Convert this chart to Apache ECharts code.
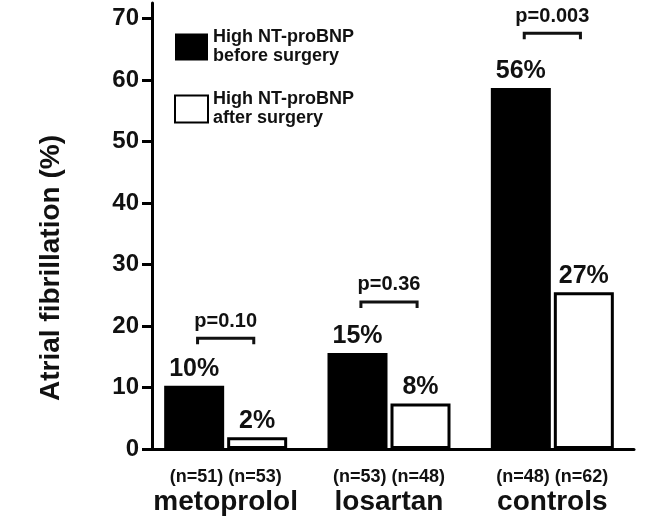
<!DOCTYPE html>
<html>
<head>
<meta charset="utf-8">
<script src="https://cdn.jsdelivr.net/npm/echarts@6/dist/echarts.min.js"></script>
<style>
html,body{margin:0;padding:0;background:#fff;}
#chart{width:651px;height:524px;}
</style>
</head>
<body>
<div id="chart"></div>
<script>
// ---- data ----
var categories = ['metoprolol', 'losartan', 'controls'];
var sampleSizes = ['(n=51) (n=53)', '(n=53) (n=48)', '(n=48) (n=62)'];
var seriesNames = ['High NT-proBNP\nbefore surgery', 'High NT-proBNP\nafter surgery'];
var beforeValues = [10.3, 15.6, 58.7];
var afterValues = [1.9, 7.4, 25.5];
var beforeLabels = ['10%', '15%', '56%'];
var afterLabels = ['2%', '8%', '27%'];
var pLabels = ['p=0.10', 'p=0.36', 'p=0.003'];
var bracketLevels = [18.0, 23.9, 67.6];
var yTicks = [0, 10, 20, 30, 40, 50, 60, 70];
var yAxisTitle = 'Atrial fibrillation (%)';

var FONT = '"Liberation Sans", Arial, sans-serif';
var chart = echarts.init(document.getElementById('chart'));

var bracketData = categories.map(function (c, i) { return [i, bracketLevels[i]]; });

var option = {
  backgroundColor: '#fff',
  animation: false,
  grid: { left: 144, right: 17, top: 3, bottom: 75, containLabel: false },
  legend: {
    data: seriesNames,
    orient: 'vertical',
    left: 169,
    top: 23,
    itemWidth: 33,
    itemHeight: 27,
    itemGap: 24,
    icon: 'rect',
    selectedMode: false,
    textStyle: { fontFamily: FONT, fontWeight: 'bold', fontSize: 18, lineHeight: 19, color: '#111' }
  },
  xAxis: {
    type: 'category',
    data: categories,
    axisLine: { lineStyle: { color: '#000', width: 3 } },
    axisTick: { show: false },
    axisLabel: {
      margin: 19,
      interval: 0,
      formatter: function (v, i) { return '{n|' + sampleSizes[i] + '}\n{c|' + v + '}'; },
      rich: {
        n: { fontFamily: FONT, fontWeight: 'bold', fontSize: 18, lineHeight: 18, color: '#111' },
        c: { fontFamily: FONT, fontWeight: 'bold', fontSize: 28, lineHeight: 32, color: '#111' }
      }
    }
  },
  yAxis: {
    type: 'value',
    min: 0,
    max: 72.5,
    interval: 10,
    offset: -8,
    splitLine: { show: false },
    axisLine: { show: true, lineStyle: { color: '#000', width: 3 } },
    axisTick: { show: true, length: 10, lineStyle: { color: '#000', width: 3 }, customValues: yTicks },
    axisLabel: { margin: 13, customValues: yTicks, fontFamily: FONT, fontWeight: 'bold', fontSize: 24, color: '#111' }
  },
  graphic: [{
    type: 'text',
    x: 51,
    y: 268,
    rotation: Math.PI / 2,
    style: { text: yAxisTitle, font: 'bold 28px ' + FONT, fill: '#111', align: 'center', verticalAlign: 'middle' }
  }],
  series: [
    {
      name: seriesNames[0],
      type: 'bar',
      data: beforeValues,
      barWidth: 60,
      barGap: '5%',
      itemStyle: { color: '#000', borderColor: '#000', borderWidth: 0 },
      label: {
        show: true, position: 'top', distance: 4,
        formatter: function (p) { return beforeLabels[p.dataIndex]; },
        fontFamily: FONT, fontWeight: 'bold', fontSize: 25, color: '#111'
      }
    },
    {
      name: seriesNames[1],
      type: 'bar',
      data: afterValues,
      barWidth: 60,
      barGap: '5%',
      itemStyle: { color: '#fff', borderColor: '#000', borderWidth: 3 },
      label: {
        show: true, position: 'top', distance: 4,
        formatter: function (p) { return afterLabels[p.dataIndex]; },
        fontFamily: FONT, fontWeight: 'bold', fontSize: 25, color: '#111'
      }
    },
    {
      name: 'p',
      type: 'custom',
      data: bracketData,
      z: 5,
      renderItem: function (params, api) {
        var c = api.coord([api.value(0), api.value(1)]);
        var hw = api.size([1, 0])[0] * 0.172;
        var drop = 6;
        return {
          type: 'group',
          children: [
            {
              type: 'polyline',
              shape: { points: [[c[0] - hw, c[1] + drop], [c[0] - hw, c[1]], [c[0] + hw, c[1]], [c[0] + hw, c[1] + drop]] },
              style: { stroke: '#111', lineWidth: 3, fill: null }
            },
            {
              type: 'text',
              x: c[0],
              y: c[1] - 17,
              style: { text: pLabels[params.dataIndex], font: 'bold 20px ' + FONT, fill: '#111', align: 'center', verticalAlign: 'middle' }
            }
          ]
        };
      }
    }
  ]
};
chart.setOption(option);
</script>
</body>
</html>
